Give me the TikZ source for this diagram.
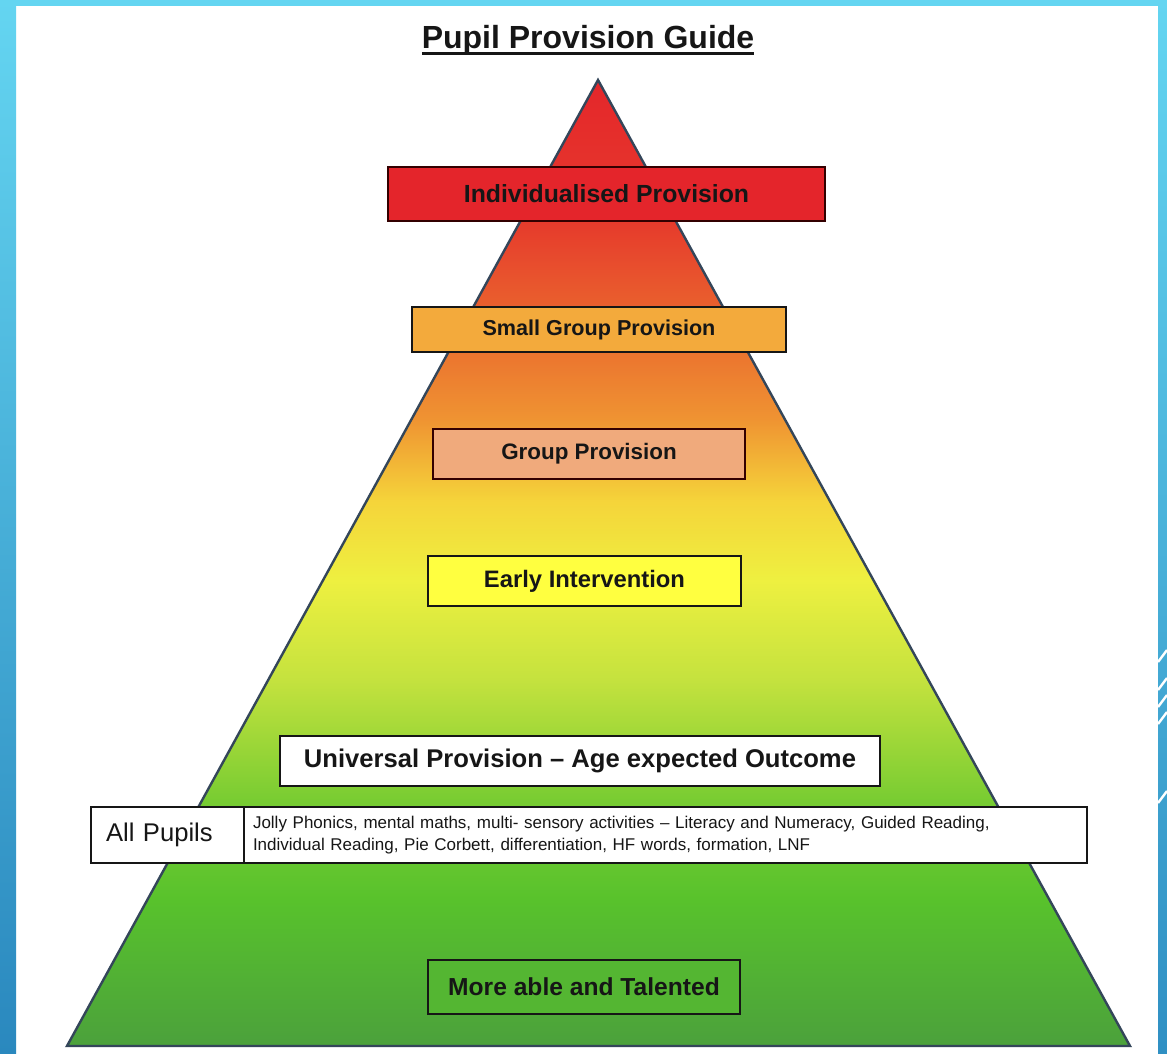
\documentclass[tikz,border=0pt]{standalone}
\usepackage{fontspec}
\setmainfont{Liberation Sans}
\newcommand\myul[1]{\setbox0\hbox{#1}\rlap{\rule[-3.2pt]{\wd0}{1.4pt}}\box0}
\definecolor{bgtop}{HTML}{64D5F1}
\definecolor{bgbot}{HTML}{2A88BE}
\definecolor{gA}{HTML}{E4252B}
\definecolor{gB}{HTML}{E63A2C}
\definecolor{gC}{HTML}{EA6A2E}
\definecolor{gD}{HTML}{EF9432}
\definecolor{gE}{HTML}{F5D43A}
\definecolor{gF}{HTML}{EEF040}
\definecolor{gG}{HTML}{C4E23E}
\definecolor{gH}{HTML}{78CC32}
\definecolor{gI}{HTML}{58C22C}
\definecolor{gJ}{HTML}{4BA03C}
\definecolor{edge}{HTML}{34465A}
\definecolor{txt}{HTML}{161616}
\begin{document}
\begin{tikzpicture}[x=0.5pt,y=-0.5pt,
  lvl/.style={draw=txt, line width=0.8pt, inner sep=0pt, font=\bfseries, text=txt},
  plain/.style={draw=txt, line width=0.7pt, fill=white, text=txt}]
\useasboundingbox (0,0) rectangle (1167,1054);
% slide background
\fill[white] (0,0) rectangle (1167,1054);
\shade[top color=bgtop, bottom color=bgbot] (0,0) rectangle (16,1054);
\shade[top color=bgtop, bottom color=bgbot!90!bgtop] (1158,0) rectangle (1167,1054);
\fill[bgtop] (0,0) rectangle (1167,6);
\begin{scope}[white, line width=1.2pt]
\draw (1158,662) -- (1167,650);
\draw (1158,690) -- (1167,678);
\draw (1158,707) -- (1167,695);
\draw (1158,724) -- (1167,712);
\draw (1158,803) -- (1167,791);
\end{scope}
% pyramid
\begin{scope}
\clip (598,80) -- (1130,1046) -- (67,1046) -- cycle;
\shade[top color=gA, bottom color=gB] (60,70) rectangle (1140,221);
\shade[top color=gB, bottom color=gC] (60,220) rectangle (1140,331);
\shade[top color=gC, bottom color=gD] (60,330) rectangle (1140,421);
\shade[top color=gD, bottom color=gE] (60,420) rectangle (1140,501);
\shade[top color=gE, bottom color=gF] (60,500) rectangle (1140,581);
\shade[top color=gF, bottom color=gG] (60,580) rectangle (1140,681);
\shade[top color=gG, bottom color=gH] (60,680) rectangle (1140,801);
\shade[top color=gH, bottom color=gI] (60,800) rectangle (1140,901);
\shade[top color=gI, bottom color=gJ] (60,900) rectangle (1140,1050);
\end{scope}
\coordinate (apex) at (598,80);
\coordinate (bl) at (67,1046);
\coordinate (br) at (1130,1046);
\draw[edge, line width=1.2pt, line join=miter] (apex) -- (br) -- (bl) -- cycle;
% title
\node[font=\bfseries\fontsize{16}{19}\selectfont, text=txt] (title) at (588,40) {\myul{Pupil Provision Guide}};
% levels
\node[lvl, fill=gA, draw=black!80!red, minimum width=218.5pt, minimum height=27pt,
  font=\bfseries\fontsize{12.4}{15}\selectfont] (ind) at (606.5,194) {Individualised Provision};
\node[lvl, fill={rgb,255:red,243;green,170;blue,60}, minimum width=187pt, minimum height=22.5pt,
  font=\bfseries\fontsize{10.8}{13}\selectfont] (small) at (599,329.5) {Small Group Provision};
\node[lvl, fill={rgb,255:red,240;green,170;blue,124}, draw=black!80!red, minimum width=156pt, minimum height=25pt,
  font=\bfseries\fontsize{11.2}{13}\selectfont] (group) at (589,454) {Group Provision};
\node[lvl, fill={rgb,255:red,255;green,255;blue,64}, minimum width=156.5pt, minimum height=25pt,
  font=\bfseries\fontsize{11.9}{14}\selectfont] (early) at (584.5,581) {Early Intervention};
\node[lvl, fill=white, minimum width=300pt, minimum height=25pt,
  font=\bfseries\fontsize{12.8}{15}\selectfont] (univ) at (580,761) {Universal Provision – Age expected Outcome};
\node[plain, minimum width=76.5pt, minimum height=28pt, inner xsep=7.5pt, inner ysep=0pt,
  text width=61.5pt, align=left, font=\fontsize{12.8}{15}\selectfont] (allp) at (167.5,835) {All Pupils};
\node[plain, minimum width=421.5pt, minimum height=28pt, inner xsep=4.5pt, inner ysep=0pt,
  text width=412.5pt, align=left, font=\fontsize{8.5}{11}\selectfont] (acts) at (665.5,835)
  {\mbox{Jolly Phonics, mental maths, multi- sensory activities – Literacy and Numeracy, Guided Reading,}\\
   Individual Reading, Pie Corbett, differentiation, HF words, formation, LNF};
\node[lvl, fill={rgb,255:red,84;green,182;blue,50}, minimum width=156pt, minimum height=27pt,
  font=\bfseries\fontsize{12.3}{15}\selectfont] (more) at (584,987) {More able and Talented};
\end{tikzpicture}
\end{document}
